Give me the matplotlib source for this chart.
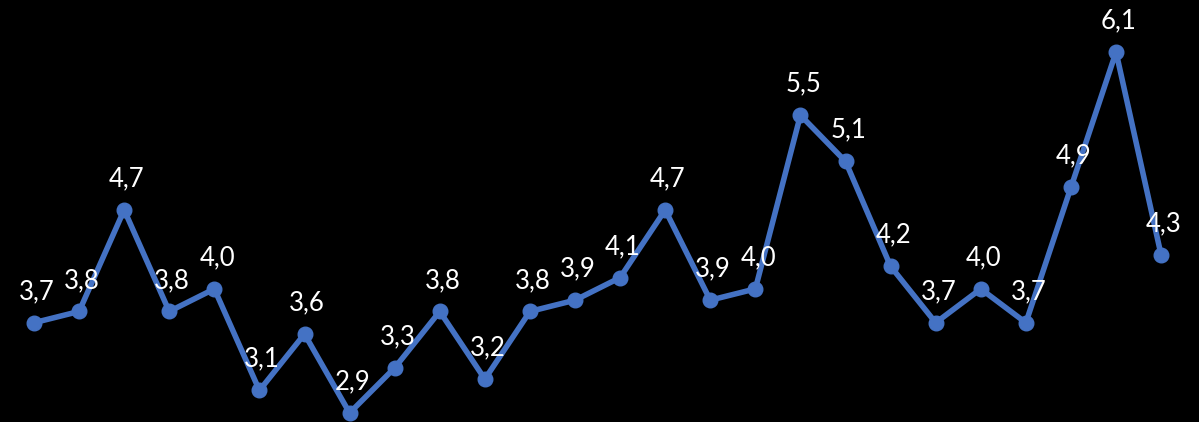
import matplotlib
matplotlib.use("Agg")
import matplotlib.pyplot as plt

values = [3.7, 3.8, 4.7, 3.8, 4.0, 3.1, 3.6, 2.9, 3.3, 3.8, 3.2, 3.8, 3.9,
          4.1, 4.7, 3.9, 4.0, 5.54, 5.13, 4.2, 3.7, 4.0, 3.7, 4.9, 6.1, 4.3]
labels = ["3,7", "3,8", "4,7", "3,8", "4,0", "3,1", "3,6", "2,9", "3,3", "3,8",
          "3,2", "3,8", "3,9", "4,1", "4,7", "3,9", "4,0", "5,5", "5,1", "4,2",
          "3,7", "4,0", "3,7", "4,9", "6,1", "4,3"]
x = list(range(len(values)))

fig = plt.figure(figsize=(11.99, 4.22), dpi=100, facecolor="black")
ax = fig.add_axes([0, 0, 1, 1])
ax.set_facecolor("black")
ax.plot(x, values, color="#4472C4", lw=4, marker="o", ms=10.5,
        solid_joinstyle="round", solid_capstyle="round", zorder=3)
for xi, v, lab in zip(x, values, labels):
    ax.annotate(lab, (xi, v), xytext=(2, 17), textcoords="offset points",
                ha="center", va="baseline", color="white", fontsize=18.5,
                family="Lato", fontweight="normal", zorder=4)
ax.set_xlim(-0.754, 25.84)
ax.set_ylim(2.82, 6.561)
ax.axis("off")
fig.savefig("out.png", dpi=100, facecolor="black")
